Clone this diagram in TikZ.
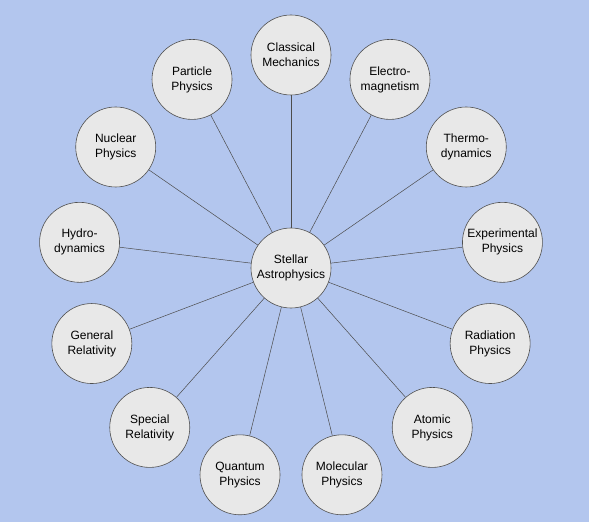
\documentclass[tikz,border=0pt]{standalone}
\usepackage{fontspec}
\setmainfont{Liberation Sans}
\usetikzlibrary{calc}
\definecolor{pagebg}{HTML}{B3C6EE}
\definecolor{discfill}{HTML}{E8E8E8}
\definecolor{discline}{HTML}{505050}
\tikzset{
    topicdisc/.style={circle, draw=discline, fill=discfill, line width=0.6pt,
        minimum size=80pt, inner sep=0pt, align=center,
        font=\fontsize{12}{15}\selectfont},
    spoke/.style={draw=black!70, line width=0.5pt}
}

\begin{document}
\begin{tikzpicture}
\fill[pagebg] (-291pt,-254pt) rectangle (298pt,268pt);
\useasboundingbox (-291pt,-254pt) rectangle (298pt,268pt);
\node[topicdisc] (stellar) at (0,0) {Stellar\\Astrophysics};
\node[topicdisc] (classical) at (90:213pt) {Classical\\Mechanics};
\node[topicdisc] (electro) at (62.31:213pt) {Electro-\\magnetism};
\node[topicdisc] (thermo) at (34.62:213pt) {Thermo-\\dynamics};
\node[topicdisc] (experimental) at (6.92:213pt) {Experimental\\Physics};
\node[topicdisc] (radiation) at (-20.77:213pt) {Radiation\\Physics};
\node[topicdisc] (atomic) at (-48.46:213pt) {Atomic\\Physics};
\node[topicdisc] (molecular) at (-76.15:213pt) {Molecular\\Physics};
\node[topicdisc] (quantum) at (-103.85:213pt) {Quantum\\Physics};
\node[topicdisc] (special) at (-131.54:213pt) {Special\\Relativity};
\node[topicdisc] (general) at (-159.23:213pt) {General\\Relativity};
\node[topicdisc] (hydro) at (173.08:213pt) {Hydro-\\dynamics};
\node[topicdisc] (nuclear) at (145.38:213pt) {Nuclear\\Physics};
\node[topicdisc] (particle) at (117.69:213pt) {Particle\\Physics};
\draw[spoke] (stellar) -- (classical);
\draw[spoke] (stellar) -- (electro);
\draw[spoke] (stellar) -- (thermo);
\draw[spoke] (stellar) -- (experimental);
\draw[spoke] (stellar) -- (radiation);
\draw[spoke] (stellar) -- (atomic);
\draw[spoke] (stellar) -- (molecular);
\draw[spoke] (stellar) -- (quantum);
\draw[spoke] (stellar) -- (special);
\draw[spoke] (stellar) -- (general);
\draw[spoke] (stellar) -- (hydro);
\draw[spoke] (stellar) -- (nuclear);
\draw[spoke] (stellar) -- (particle);
\end{tikzpicture}
\end{document}
